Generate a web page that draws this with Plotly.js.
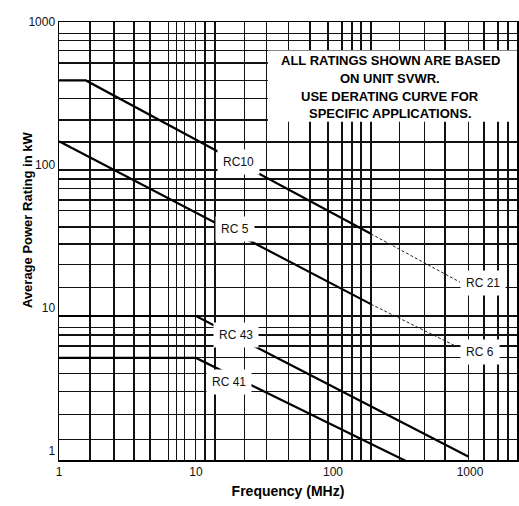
<!DOCTYPE html>
<html>
<head>
<meta charset="utf-8">
<script src="https://cdn.plot.ly/plotly-3.0.1.min.js"></script>
<style>html,body{margin:0;padding:0;background:#fff;}#chart{width:519px;height:506px;}</style>
</head>
<body>
<div id="chart"></div>
<script>
// ---- data (frequency in MHz, power in kW) ----
const rc10Freq = [1, 1.57, 189];
const rc10Power = [390, 390, 32.9];
const rc21Freq = [189, 845];
const rc21Power = [32.9, 15.1];
const rc5Freq = [1, 189];
const rc5Power = [146.5, 10.6];
const rc6Freq = [189, 804];
const rc6Power = [10.6, 5.33];
const rc43Freq = [1, 10, 970];
const rc43Power = [8.75, 8.75, 0.91];
const rc41Freq = [1, 10, 345];
const rc41Power = [4.45, 4.45, 0.84];

// tick labels
const xTickVals = [1, 10, 100, 1000];
const xTickText = ['1', '10', '100', '1000'];
const yTickVals = [1, 10, 100, 1000];
const yTickText = ['1', '10', '100', '1000'];

// printed graph-paper rulings
const xGrid = [1.68, 2.52, 3.53, 4.62, 6.28, 7.23, 8.22, 9.9, 11.6, 13.8, 22.5, 32.8, 47.2, 67.9, 92, 116, 138, 160, 189, 306, 465, 657, 970, 1265, 1600, 1893];
const yGrid = [1.2, 1.78, 2.59, 3.48, 4.47, 5.4, 6.44, 7.3, 8.75, 13.8, 20.1, 28, 36.8, 47.7, 56.6, 68.4, 79.4, 91.8, 145, 206, 291, 391, 517, 634, 745, 833];

// curve labels: [text, freq, power]
const curveLabels = [
  ['RC10', 20.3, 104.5],
  ['RC 5', 19.3, 35.5],
  ['RC 21', 1245, 14.9],
  ['RC 6', 1183, 4.92],
  ['RC 43', 19.6, 6.44],
  ['RC 41', 17.4, 3.02]
];

const noteLines = ['ALL RATINGS SHOWN ARE BASED', 'ON UNIT SVWR.', 'USE DERATING CURVE FOR', 'SPECIFIC APPLICATIONS.'];

const FONT = 'Liberation Sans, Arial, Helvetica, sans-serif';
const solid = {color: '#000', width: 2.2};
const dashed = {color: '#222', width: 1, dash: '3px,2px'};

const traces = [
  {x: rc10Freq, y: rc10Power, mode: 'lines', line: solid, name: 'RC10'},
  {x: rc21Freq, y: rc21Power, mode: 'lines', line: dashed, name: 'RC 21'},
  {x: rc5Freq, y: rc5Power, mode: 'lines', line: solid, name: 'RC 5'},
  {x: rc6Freq, y: rc6Power, mode: 'lines', line: dashed, name: 'RC 6'},
  {x: rc43Freq, y: rc43Power, mode: 'lines', line: solid, name: 'RC 43'},
  {x: rc41Freq, y: rc41Power, mode: 'lines', line: solid, name: 'RC 41'}
];

const annotations = curveLabels.map(([t, f, p]) => ({
  x: Math.log10(f), y: Math.log10(p), xref: 'x', yref: 'y',
  text: t, showarrow: false, bgcolor: '#fff', borderpad: 5,
  font: {family: FONT, size: 12, color: '#111'}
}));

const notePos = [0.911, 0.871, 0.830, 0.791];
noteLines.forEach((t, i) => annotations.push({
  x: 0.723, y: notePos[i], xref: 'paper', yref: 'paper', xanchor: 'center', yanchor: 'middle',
  text: '<b>' + t + '</b>', showarrow: false,
  font: {family: FONT, size: 13, color: '#000'}
}));

annotations.push({
  x: -0.070, y: 0.55, xref: 'paper', yref: 'paper', xanchor: 'center', yanchor: 'middle',
  text: '<b>Average Power Rating in kW</b>', textangle: -90, showarrow: false,
  font: {family: FONT, size: 13, color: '#000'}
});

const layout = {
  width: 519, height: 506,
  margin: {l: 59, r: 2, t: 22, b: 46},
  paper_bgcolor: '#fff', plot_bgcolor: '#fff',
  showlegend: false,
  font: {family: FONT, size: 12, color: '#111'},
  xaxis: {
    type: 'log', range: [0, 3.343],
    tickmode: 'array', tickvals: xTickVals, ticktext: xTickText,
    showgrid: false, ticks: '', zeroline: false,
    showline: true, linecolor: '#000', linewidth: 1.5, mirror: true,
    minor: {tickmode: 'array', tickvals: xGrid, showgrid: true, gridcolor: '#111', gridwidth: 1.4, ticks: ''},
    tickfont: {family: FONT, size: 12, color: '#111'},
    title: {text: '<b>Frequency (MHz)</b>', font: {family: FONT, size: 14, color: '#000'}, standoff: 8}
  },
  yaxis: {
    type: 'log', range: [-0.066, 3.0],
    tickmode: 'array', tickvals: yTickVals, ticktext: yTickText,
    showgrid: false, ticks: '', zeroline: false,
    showline: true, linecolor: '#000', linewidth: 1.5, mirror: true,
    minor: {tickmode: 'array', tickvals: yGrid, showgrid: true, gridcolor: '#111', gridwidth: 1.4, ticks: ''},
    tickfont: {family: FONT, size: 12, color: '#111'}
  },
  shapes: [{
    type: 'rect', xref: 'paper', yref: 'paper', x0: 0.456, x1: 1.0, y0: 0.772, y1: 0.935,
    fillcolor: '#fff', line: {width: 0}, layer: 'above'
  }],
  annotations: annotations
};

Plotly.newPlot('chart', traces, layout, {displayModeBar: false, staticPlot: true});
</script>
</body>
</html>
